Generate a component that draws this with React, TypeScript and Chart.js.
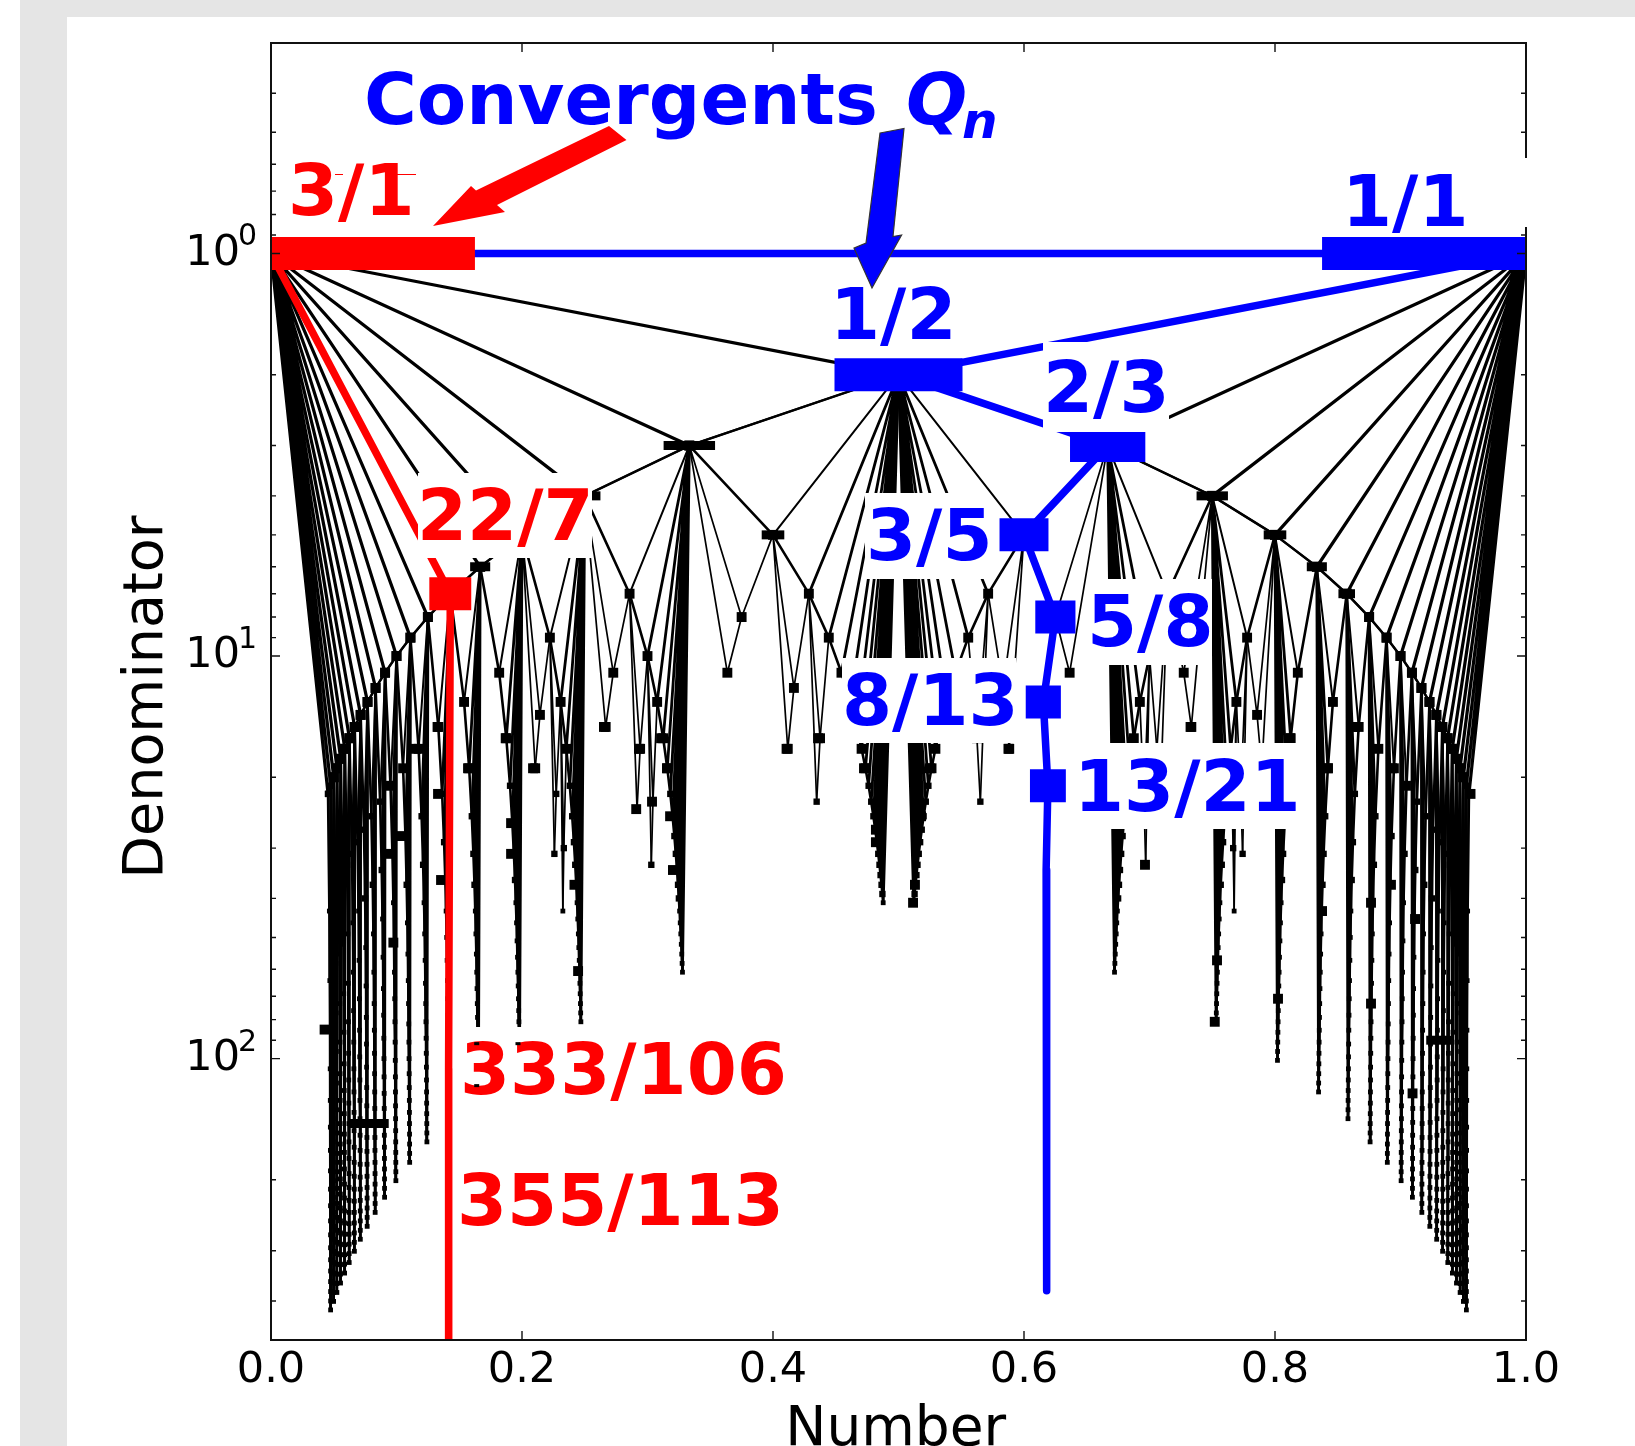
import React, { useEffect, useRef } from "react";
import { Chart, registerables } from "chart.js";

Chart.register(...registerables);

// denominators of the fan under each 1/n; the k-th entry has numerator fanNumerators[k]
const fanNumerators = [1,2,3,4,5,6,7,8,9,10,11,12,13,14,15,16,17,18,19,20];
const fan2 = [3,5,7,9,11,13,15,17,19,21,23,25,27,29,31,33,35,37,39,41];
const fan3 = [4,7,10,13,16,19,22,25,28,31,34,37,40,43,46,49,52,55,58,61];
const fan4 = [5,9,13,17,21,25,29,33,37,41,45,49,53,57,61,65,69,73,77,81];
const fan5 = [6,11,16,21,26,31,36,41,46,51,56,61,66,71,76,81,86,91,96,101];
const fan6 = [7,13,19,25,31,37,43,49,55,61,67,73,79,85,91,97,103,109,115,121];
const fan7 = [8,15,22,29,36,43,50,57,64,71,78,85,92,99,106,113,120,127,134,141];
const fan8 = [9,17,25,33,41,49,57,65,73,81,89,97,105,113,121,129,137,145,153,161];
const fan9 = [10,19,28,37,46,55,64,73,82,91,100,109,118,127,136,145,154,163,172,181];
const fan10 = [11,21,31,41,51,61,71,81,91,101,111,121,131,141,151,161,171,181,191,201];
const fan11 = [12,23,34,45,56,67,78,89,100,111,122,133,144,155,166,177,188,199,210,221];
const fan12 = [13,25,37,49,61,73,85,97,109,121,133,145,157,169,181,193,205,217,229,241];
const fan13 = [14,27,40,53,66,79,92,105,118,131,144,157,170,183,196,209,222,235,248,261];
const fan14 = [15,29,43,57,71,85,99,113,127,141,155,169,183,197,211,225,239,253,267,281];
const fan15 = [16,31,46,61,76,91,106,121,136,151,166,181,196,211,226,241,256,271,286,301];
const fan16 = [17,33,49,65,81,97,113,129,145,161,177,193,209,225,241,257,273,289,305,321];
const fan17 = [18,35,52,69,86,103,120,137,154,171,188,205,222,239,256,273,290,307,324,341];
const fan18 = [19,37,55,73,91,109,127,145,163,181,199,217,235,253,271,289,307,325,343,361];
const fan19 = [20,39,58,77,96,115,134,153,172,191,210,229,248,267,286,305,324,343,362,381];
const fan20 = [21,41,61,81,101,121,141,161,181,201,221,241,261,281,301,321,341,361,381,401];
const fan21 = [22,43,64,85,106,127,148,169,190,211,232,253,274,295,316,337,358,379,400,421];
const fanApexDen = [2,3,4,5,6,7,8,9,10,11,12,13,14,15,16,17,18,19,20,21];
const fans = [fan2,fan3,fan4,fan5,fan6,fan7,fan8,fan9,fan10,fan11,fan12,fan13,fan14,fan15,fan16,fan17,fan18,fan19,fan20,fan21];

// apex, first neighbour, then two further fractions of a short side branch
const sideBranches = [
  "1/3 2/5 3/8 4/11","2/5 3/7 5/12 7/17","3/7 4/9 7/16 10/23",
  "1/4 2/7 3/11 4/15","2/7 3/10 5/17 7/24","3/10 4/13 7/23 10/33",
  "1/5 2/9 3/14 4/19","2/9 3/13 5/22 7/31","3/13 4/17 7/30 10/43",
];

// larger marks
const accentX = [0.0975,0.0427,0.187,0.157,0.1913,0.1913,0.0935,0.0948,0.1036,0.1155,0.1327,0.1331,0.1355,0.2418,0.2447,0.2088,0.291,0.3036,0.4108,0.4359,0.2932,0.3108,0.3155,0.318,0.3203,0.2653,0.482,0.482,0.4725,0.5131,0.5116,0.518,0.525,0.5876,0.6964,0.752,0.7538,0.8024,0.8765,0.8765,0.9096,0.9116,0.8375,0.8924,0.8422,0.8932,0.9044,0.8637,0.812,0.7327,0.9558,0.9327];
const accentQ = [51.5,84.7,16,19,26,31,31,21,28,17,15,22,36,37,60.6,19,24,23,17,16,17,16,19,25,34,15,27,29,19,37,41,25,19,17,33,81,57,71,41,73,122,45,43,37,19,19,21,15,16,15,22,15];
const wideMarkX = [0.0778,0.9315];
const wideMarkQ = [145,90];
const wideMarkHalf = [0.016,0.011];
// tiny remains of the spikes that show through the 333/106 label
const remnantX = [0.1639,0.1639,0.1968];
const remnantQ = [91.8,116.7,91.8];

const bluePathP = [0,1,1,2,3,5,8,13,21,34,55,89,144,233];
const bluePathQ = [1,1,2,3,5,8,13,21,34,55,89,144,233,377];
const blueBarP = [1,1,2,3,5,8,13];
const blueBarQ = [1,2,3,5,8,13,21];
const blueBarHalf = [0.1625,0.051,0.03,0.0195,0.016,0.014,0.0143];

const redPathP = [0,1,15,16,4687];
const redPathQ = [1,7,106,113,33102];
const redBarP = [0,1];
const redBarQ = [1,7];
const redBarHalf = [0.1625,0.0167];

const blackBarP = [1,1,1,2,1,1];
const blackBarQ = [3,4,5,5,6,7];
const blackBarHalf = [0.0205,0.0125,0.009,0.009,0.008,0.0066];

const xTicks = [0,0.2,0.4,0.6,0.8,1];
const yMajor = [1,10,100];
const yExponents = ["0","1","2"];
const yMinor = [0.4,0.5,0.6,0.7,0.8,0.9,2,3,4,5,6,7,8,9,20,30,40,50,60,70,80,90,200,300,400];

const FONT = "'DejaVu Sans'";
type Label = { t: string; x: number; y: number; c: string };
const labels: Label[] = [
  { t: "3/1", x: 288, y: 215, c: "#ff0000" },
  { t: "1/1", x: 1342, y: 226, c: "#0000ff" },
  { t: "1/2", x: 830, y: 339, c: "#0000ff" },
  { t: "2/3", x: 1043, y: 412, c: "#0000ff" },
  { t: "22/7", x: 417, y: 540, c: "#ff0000" },
  { t: "3/5", x: 866, y: 560, c: "#0000ff" },
  { t: "5/8", x: 1087, y: 646, c: "#0000ff" },
  { t: "8/13", x: 842, y: 725, c: "#0000ff" },
  { t: "13/21", x: 1074, y: 811, c: "#0000ff" },
  { t: "333/106", x: 460, y: 1094, c: "#ff0000" },
  { t: "355/113", x: 457, y: 1225, c: "#ff0000" },
];
const whiteBoxes = [
  [285, 148, 425, 224],
  [1330, 158, 1530, 227],
  [828, 272, 955, 358],
  [1043, 342, 1169, 432],
  [418, 473, 592, 558],
  [865, 493, 990, 579],
  [1088, 579, 1212, 665],
  [842, 658, 1016, 743],
  [1078, 743, 1297, 829],
  [453, 1027, 785, 1095],
];
const redArrow = [[609,126],[476,190.5],[471,186],[433,226],[505,212],[497,205],[626.5,140]];
const blueArrow = [[880,133],[904,128.5],[893,236.5],[901.6,235],[872,288],[854,248],[866,243]];
const redDashes = [[335,343],[397,416]];

type P = { x: number; y: number };
const frac = (s: string) => s.split("/").map(Number);

function markRadius(q: number) {
  if (q <= 20) return 7;
  if (q <= 40) return 4.5;
  return 3.4;
}

function lineSet(data: P[], color: string, width: number, order: number) {
  return {
    type: "scatter", data, showLine: true, borderColor: color, backgroundColor: color,
    borderWidth: width, pointRadius: 0, clip: 0, tension: 0, borderCapStyle: "butt",
    borderJoinStyle: "round", order, fill: false,
  };
}
function barSet(x: number, half: number, q: number, color: string, h: number, order: number) {
  return lineSet([{ x: x - half, y: q }, { x: x + half, y: q }], color, h, order);
}

function buildDatasets() {
  const ds: any[] = [];
  const nodes: P[] = [];
  const mirror = (pts: P[]) => pts.map((p) => ({ x: 1 - p.x, y: p.y }));
  const add = (pts: P[], width: number) => {
    ds.push(lineSet(pts, "#000", width, 7));
    ds.push(lineSet(mirror(pts), "#000", width, 7));
  };

  // top fan from 0/1 with the chain along 1/n
  const top: P[] = [];
  const chain: P[] = [];
  fanApexDen.forEach((n) => {
    top.push({ x: 0, y: 1 }, { x: 1 / n, y: n });
    chain.push({ x: 1 / n, y: n });
  });
  top.push({ x: 0, y: 1 }, { x: 1 / 22, y: 22 });
  chain.push({ x: 1 / 22, y: 22 });
  add(top, 3.2);
  add(chain, 2.5);
  chain.forEach((p) => nodes.push(p));

  fans.forEach((dens, i) => {
    const apex = { x: 1 / fanApexDen[i], y: fanApexDen[i] };
    const near: P[] = [];
    const far: P[] = [];
    const run: P[] = [];
    dens.forEach((q, j) => {
      const p = { x: fanNumerators[j] / q, y: q };
      (j < 2 ? near : far).push(apex, p);
      run.push(p);
      nodes.push(p);
    });
    add(near, 2);
    add(far, 2.8);
    add(run, 2.6);
  });

  sideBranches.forEach((row) => {
    const [a, b, c, d] = row.split(" ").map(frac);
    const pt = (f: number[]) => ({ x: f[0] / f[1], y: f[1] });
    const A = pt(a), B = pt(b), C = pt(c), D = pt(d);
    add([A, C, A, D], 1.7);
    add([B, C, D], 1.7);
    nodes.push(C, D);
  });

  accentX.forEach((x, i) => {
    ds.push({
      type: "scatter", data: [{ x, y: accentQ[i] }], showLine: false, pointStyle: "rect",
      pointRadius: 7, backgroundColor: "#000", borderColor: "#000", borderWidth: 0, order: 5, clip: 0,
    });
  });
  wideMarkX.forEach((x, i) => {
    ds.push(barSet(x, wideMarkHalf[i], wideMarkQ[i], "#000", 9, 5));
  });
  blackBarP.forEach((p, i) => {
    const q = blackBarQ[i];
    ds.push(barSet(p / q, blackBarHalf[i], q, "#000", 9, 5));
    ds.push(barSet(1 - p / q, blackBarHalf[i], q, "#000", 9, 5));
  });

  const allNodes = nodes.concat(mirror(nodes));
  ds.push({
    type: "scatter", data: allNodes, showLine: false, pointStyle: "rect",
    pointRadius: allNodes.map((p) => markRadius(p.y)), backgroundColor: "#000", borderColor: "#000",
    borderWidth: 0, order: 6, clip: 0,
  });

  blueBarP.forEach((p, i) => {
    ds.push(barSet(p / blueBarQ[i], blueBarHalf[i], blueBarQ[i], "#0000ff", 33, 3));
  });
  ds.push(lineSet(bluePathP.map((p, i) => ({ x: p / bluePathQ[i], y: bluePathQ[i] })), "#0000ff", 7.5, 4));

  redBarP.forEach((p, i) => {
    ds.push(barSet(p / redBarQ[i], redBarHalf[i], redBarQ[i], "#ff0000", 33, 1));
  });
  ds.push(lineSet(redPathP.map((p, i) => ({ x: p / redPathQ[i], y: redPathQ[i] })), "#ff0000", 7.5, 2));
  return ds;
}

const overlay = {
  id: "overlay",
  afterDraw(chart: any) {
    const { ctx, chartArea: a, scales } = chart;
    const xs = scales.x, ys = scales.y;
    ctx.save();
    ctx.strokeStyle = "#111";
    ctx.lineWidth = 1.4;
    ctx.beginPath();
    xTicks.forEach((v) => {
      const px = xs.getPixelForValue(v);
      ctx.moveTo(px, a.bottom); ctx.lineTo(px, a.bottom - 9);
      ctx.moveTo(px, a.top); ctx.lineTo(px, a.top + 9);
    });
    yMajor.forEach((v) => {
      const py = ys.getPixelForValue(v);
      ctx.moveTo(a.left, py); ctx.lineTo(a.left + 9, py);
      ctx.moveTo(a.right, py); ctx.lineTo(a.right - 9, py);
    });
    yMinor.forEach((v) => {
      const py = ys.getPixelForValue(v);
      ctx.moveTo(a.left, py); ctx.lineTo(a.left + 5, py);
      ctx.moveTo(a.right, py); ctx.lineTo(a.right - 5, py);
    });
    ctx.stroke();
    ctx.lineWidth = 2;
    ctx.strokeRect(a.left, a.top, a.right - a.left, a.bottom - a.top);

    // exponents of the 10^n tick labels
    ctx.fillStyle = "#000";
    ctx.textAlign = "left";
    ctx.textBaseline = "alphabetic";
    ctx.font = `30px ${FONT}`;
    yMajor.forEach((v, i) => {
      ctx.fillText(yExponents[i], 238, ys.getPixelForValue(v) - 8);
    });

    ctx.fillStyle = "#fff";
    whiteBoxes.forEach((b) => ctx.fillRect(b[0], b[1], b[2] - b[0], b[3] - b[1]));

    ctx.font = `bold 72px ${FONT}`;
    labels.forEach((l) => {
      ctx.fillStyle = l.c;
      ctx.fillText(l.t, l.x, l.y);
    });
    ctx.fillStyle = "#0000ff";
    ctx.fillText("Convergents", 364, 124);
    ctx.font = `italic bold 72px ${FONT}`;
    ctx.fillText("Q", 906, 124);
    ctx.font = `italic bold 50px ${FONT}`;
    ctx.fillText("n", 962, 138);

    ctx.fillStyle = "#000";
    remnantX.forEach((x, i) => {
      ctx.fillRect(xs.getPixelForValue(x) - 2.5, ys.getPixelForValue(remnantQ[i]) - 1.5, 5, 3);
    });
    ctx.fillStyle = "#ff0000";
    redDashes.forEach((d) => ctx.fillRect(d[0], 174, d[1] - d[0], 1));

    const poly = (pts: number[][]) => {
      ctx.beginPath();
      pts.forEach((p, i) => (i ? ctx.lineTo(p[0], p[1]) : ctx.moveTo(p[0], p[1])));
      ctx.closePath();
    };
    ctx.fillStyle = "#ff0000";
    poly(redArrow);
    ctx.fill();
    ctx.fillStyle = "#0000ff";
    ctx.strokeStyle = "#333";
    ctx.lineWidth = 1.2;
    poly(blueArrow);
    ctx.fill();
    ctx.stroke();
    ctx.restore();
  },
};

export default function App() {
  const ref = useRef<HTMLCanvasElement>(null);
  useEffect(() => {
    const chart = new Chart(ref.current as HTMLCanvasElement, {
      type: "scatter",
      data: { datasets: buildDatasets() },
      plugins: [overlay],
      options: {
        animation: false,
        responsive: false,
        events: [],
        layout: { padding: { left: 0, top: 43, right: 109, bottom: 0 } },
        plugins: { legend: { display: false }, tooltip: { enabled: false } },
        scales: {
          x: {
            type: "linear", min: 0, max: 1,
            grid: { display: false, drawTicks: false },
            border: { display: false },
            afterBuildTicks: (s: any) => { s.ticks = xTicks.map((value) => ({ value })); },
            afterFit: (s: any) => { s.height = 106; s.paddingLeft = 0; s.paddingRight = 0; s.paddingTop = 0; s.paddingBottom = 0; },
            ticks: {
              color: "#000", font: { family: "DejaVu Sans", size: 43 }, padding: 5, maxRotation: 0, autoSkip: false,
              callback: (v: any) => Number(v).toFixed(1),
            },
            title: {
              display: true, text: "Number\u200A", color: "#000",
              font: { family: "DejaVu Sans", size: 55 }, padding: { top: 0, bottom: -18 },
            },
          },
          y: {
            type: "logarithmic", min: 0.3, max: 500, reverse: true,
            grid: { display: false, drawTicks: false },
            border: { display: false },
            afterBuildTicks: (s: any) => { s.ticks = yMajor.map((value) => ({ value, major: true })); },
            afterFit: (s: any) => { s.width = 271; s.paddingLeft = 0; s.paddingRight = 0; s.paddingTop = 0; s.paddingBottom = 0; },
            ticks: {
              color: "#000", font: { family: "DejaVu Sans", size: 43 }, padding: 31, autoSkip: false,
              callback: () => "10",
            },
            title: {
              display: true, text: "Denominator\u2009", color: "#000",
              font: { family: "DejaVu Sans", size: 55.5 }, padding: { top: 114, bottom: 0 },
            },
          },
        },
      },
    } as any);
    return () => chart.destroy();
  }, []);
  return (
    <div style={{ position: "fixed", left: 0, top: 0, width: 1635, height: 1446, background: "#fff", overflow: "hidden" }}>
      <div style={{ position: "absolute", left: 20, top: 0, right: 0, bottom: 0, background: "#e5e5e5" }} />
      <div style={{ position: "absolute", left: 67, top: 17, right: 0, bottom: 0, background: "#fff" }} />
      <canvas ref={ref} width={1635} height={1446} style={{ position: "absolute", left: 0, top: 0, display: "block", filter: "blur(0.6px)" }} />
    </div>
  );
}
